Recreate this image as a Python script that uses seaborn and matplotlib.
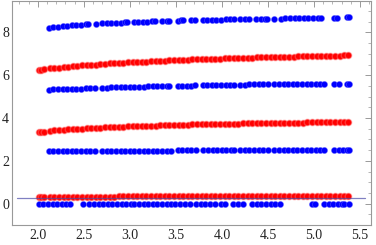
import matplotlib
matplotlib.use("Agg")
import matplotlib.pyplot as plt
from matplotlib.ticker import MultipleLocator
import seaborn as sns
import pandas as pd

# ---- data ----
red_x = [2.01, 2.04, 2.07, 2.13, 2.18, 2.23, 2.28, 2.33, 2.38, 2.43, 2.48, 2.53, 2.58, 2.63,
         2.68, 2.73, 2.78, 2.83, 2.88, 2.93, 2.98, 3.03, 3.08, 3.13, 3.18, 3.23, 3.28, 3.33,
         3.38, 3.43, 3.48, 3.53, 3.58, 3.63, 3.68, 3.73, 3.78, 3.83, 3.88, 3.93, 3.98, 4.03,
         4.08, 4.13, 4.18, 4.23, 4.28, 4.33, 4.38, 4.43, 4.48, 4.53, 4.58, 4.63, 4.68, 4.73,
         4.78, 4.83, 4.88, 4.93, 4.98, 5.03, 5.08, 5.13, 5.18, 5.23, 5.28, 5.33, 5.37]
red_top_y = [6.25, 6.26, 6.27, 6.32, 6.34, 6.36, 6.38, 6.40, 6.42, 6.44, 6.46, 6.47, 6.49, 6.50,
             6.52, 6.53, 6.55, 6.56, 6.57, 6.58, 6.60, 6.61, 6.62, 6.63, 6.64, 6.65, 6.66, 6.67,
             6.68, 6.69, 6.70, 6.71, 6.72, 6.73, 6.74, 6.74, 6.75, 6.76, 6.77, 6.77, 6.78, 6.79,
             6.79, 6.80, 6.81, 6.81, 6.82, 6.82, 6.83, 6.84, 6.84, 6.85, 6.85, 6.86, 6.86, 6.87,
             6.87, 6.88, 6.88, 6.89, 6.89, 6.90, 6.90, 6.91, 6.91, 6.92, 6.92, 6.93, 6.93]
red_mid_y = [3.35, 3.36, 3.37, 3.41, 3.43, 3.44, 3.46, 3.47, 3.49, 3.50, 3.51, 3.52, 3.53, 3.54,
             3.55, 3.56, 3.57, 3.58, 3.59, 3.60, 3.61, 3.61, 3.62, 3.63, 3.64, 3.64, 3.65, 3.66,
             3.66, 3.67, 3.68, 3.68, 3.69, 3.69, 3.70, 3.70, 3.71, 3.71, 3.72, 3.72, 3.73, 3.73,
             3.74, 3.74, 3.74, 3.75, 3.75, 3.76, 3.76, 3.76, 3.77, 3.77, 3.77, 3.78, 3.78, 3.78,
             3.79, 3.79, 3.79, 3.80, 3.80, 3.80, 3.80, 3.81, 3.81, 3.81, 3.82, 3.82, 3.82]
red_low_y = [0.30, 0.30, 0.30,
             0.31, 0.31, 0.31, 0.32, 0.32, 0.32, 0.32, 0.32, 0.33, 0.33, 0.33, 0.33,
             0.33, 0.33, 0.33, 0.34, 0.34, 0.34, 0.34, 0.34, 0.34, 0.34, 0.34, 0.34,
             0.34, 0.34, 0.34, 0.34, 0.35, 0.35, 0.35, 0.35, 0.35, 0.35, 0.35, 0.35,
             0.35, 0.35, 0.35, 0.35, 0.35, 0.35, 0.35, 0.35, 0.35, 0.35, 0.35, 0.35,
             0.35, 0.35, 0.35, 0.35, 0.36, 0.36, 0.36, 0.36, 0.36, 0.36, 0.36, 0.36,
             0.36, 0.36, 0.36, 0.36, 0.36,
             0.36]

blue_top_x = [2.12, 2.17, 2.22, 2.27, 2.32, 2.37, 2.42, 2.47, 2.52, 2.55, 2.63, 2.70, 2.75, 2.80,
              2.85, 2.90, 2.95, 2.97, 3.04, 3.09, 3.14, 3.19, 3.24, 3.27, 3.35, 3.40, 3.43, 3.52,
              3.56, 3.58, 3.66, 3.71, 3.79, 3.84, 3.89, 3.94, 3.99, 4.04, 4.09, 4.13, 4.20, 4.25,
              4.30, 4.37, 4.42, 4.47, 4.49, 4.57, 4.64, 4.69, 4.74, 4.79, 4.84, 4.89, 4.94, 4.99,
              5.04, 5.08, 5.22, 5.25, 5.36, 5.38]
blue_top_y = [8.21, 8.24, 8.26, 8.29, 8.31, 8.33, 8.35, 8.36, 8.38, 8.39, 8.41, 8.42, 8.43, 8.44,
              8.45, 8.46, 8.47, 8.47, 8.49, 8.50, 8.50, 8.51, 8.52, 8.52, 8.53, 8.54, 8.54, 8.55,
              8.56, 8.56, 8.57, 8.57, 8.58, 8.59, 8.59, 8.60, 8.60, 8.61, 8.61, 8.61, 8.62, 8.62,
              8.63, 8.63, 8.64, 8.64, 8.64, 8.65, 8.65, 8.66, 8.66, 8.66, 8.67, 8.67, 8.67, 8.68,
              8.68, 8.68, 8.69, 8.69, 8.70, 8.70]

blue_mid_x = [2.12, 2.17, 2.22, 2.27, 2.32, 2.37, 2.42, 2.47, 2.52, 2.57, 2.62,
              2.70, 2.75, 2.80, 2.85, 2.90, 2.95, 3.00, 3.05, 3.10, 3.15, 3.20, 3.25, 3.30, 3.35, 3.40, 3.43,
              3.52, 3.57, 3.62, 3.67, 3.71,
              3.79, 3.84, 3.89, 3.94, 3.99, 4.04, 4.09, 4.13,
              4.20, 4.25, 4.30, 4.35, 4.40, 4.45, 4.50,
              4.57, 4.62, 4.67, 4.72, 4.77, 4.82, 4.87, 4.92, 4.97, 5.02, 5.07, 5.11,
              5.22, 5.27,
              5.36, 5.38]
blue_mid_y = [5.33, 5.34, 5.35, 5.36, 5.36, 5.37, 5.38, 5.38, 5.39, 5.40, 5.40,
              5.41, 5.42, 5.43, 5.43, 5.44, 5.45, 5.45, 5.46, 5.47, 5.47, 5.48, 5.48, 5.49, 5.49, 5.50, 5.50,
              5.51, 5.51, 5.52, 5.52, 5.53,
              5.53, 5.54, 5.54, 5.54, 5.55, 5.55, 5.55, 5.56,
              5.56, 5.56, 5.57, 5.57, 5.57, 5.57, 5.58,
              5.58, 5.58, 5.58, 5.59, 5.59, 5.59, 5.59, 5.60, 5.60, 5.60, 5.60, 5.60,
              5.61, 5.61,
              5.61, 5.61]

blue_low_x = [2.12, 2.17, 2.22, 2.27, 2.32, 2.37, 2.42, 2.47, 2.52, 2.57, 2.62,
              2.70, 2.75, 2.80, 2.85, 2.90, 2.95, 3.00, 3.05, 3.10, 3.15, 3.20, 3.25, 3.30, 3.35, 3.40, 3.45,
              3.52, 3.57, 3.62, 3.67, 3.72,
              3.80, 3.85, 3.90, 3.95, 4.00, 4.05, 4.10, 4.13,
              4.20, 4.25, 4.30, 4.35, 4.40, 4.45, 4.50,
              4.57, 4.62, 4.67, 4.72, 4.77, 4.82, 4.87, 4.92, 4.97, 5.02, 5.07, 5.11,
              5.22, 5.27, 5.32, 5.36, 5.38]
blue_low_y = [2.44, 2.44, 2.44, 2.45, 2.45, 2.45, 2.45, 2.45, 2.46, 2.46, 2.46,
              2.46, 2.46, 2.46, 2.47, 2.47, 2.47, 2.47, 2.47, 2.47, 2.48, 2.48, 2.48, 2.48, 2.48, 2.48, 2.48,
              2.49, 2.49, 2.49, 2.49, 2.49,
              2.49, 2.49, 2.49, 2.49, 2.50, 2.50, 2.50, 2.50,
              2.50, 2.50, 2.50, 2.50, 2.50, 2.50, 2.50,
              2.50, 2.50, 2.51, 2.51, 2.51, 2.51, 2.51, 2.51, 2.51, 2.51, 2.51, 2.51,
              2.52, 2.52, 2.52, 2.52, 2.52]

blue_zero_x = [2.01, 2.06, 2.11, 2.16, 2.21, 2.26, 2.31, 2.35,
               2.49,
               2.56, 2.61, 2.66, 2.71, 2.76, 2.81, 2.86, 2.91, 2.96, 3.01, 3.04,
               3.10, 3.15, 3.20, 3.25, 3.30, 3.35, 3.40, 3.45, 3.49,
               3.55, 3.60, 3.65,
               3.72, 3.77, 3.82, 3.87, 3.92,
               3.99, 4.03,
               4.12, 4.17, 4.23,
               4.33, 4.38, 4.43, 4.48, 4.53, 4.58, 4.63,
               4.98, 5.01,
               5.11, 5.16, 5.21, 5.26, 5.31, 5.33,
               5.38]
blue_zero_y = [0.0, 0.0, 0.0, 0.0, 0.0, 0.0, 0.0, 0.0,
               0.0,
               0.0, 0.0, 0.0, 0.0, 0.0, 0.0, 0.0, 0.0, 0.0, 0.0, 0.0,
               0.0, 0.0, 0.0, 0.0, 0.0, 0.0, 0.0, 0.0, 0.0,
               0.0, 0.0, 0.0,
               0.0, 0.0, 0.0, 0.0, 0.0,
               0.0, 0.0,
               0.0, 0.0, 0.0,
               0.0, 0.0, 0.0, 0.0, 0.0, 0.0, 0.0,
               0.0, 0.0,
               0.0, 0.0, 0.0, 0.0, 0.0, 0.0,
               0.0]

ref_line_x = [1.77, 5.56]
ref_line_y = [0.28, 0.28]

x_ticks = [2.0, 2.5, 3.0, 3.5, 4.0, 4.5, 5.0, 5.5]
x_tick_labels = ["2.0", "2.5", "3.0", "3.5", "4.0", "4.5", "5.0", "5.5"]
y_ticks = [0, 2, 4, 6, 8]
y_tick_labels = ["0", "2", "4", "6", "8"]

# ---- plotting ----
sns.set_style("white")
plt.rcParams["font.family"] = ["Liberation Serif", "DejaVu Serif"]

fig = plt.figure(figsize=(3.76, 2.45), dpi=100)
ax = fig.add_axes([12 / 376, 20 / 245, 359 / 376, 224 / 245])

BLUE = "#0000ff"
RED = "#ff0000"

blue_sets = [(blue_top_x, blue_top_y), (blue_mid_x, blue_mid_y),
             (blue_low_x, blue_low_y), (blue_zero_x, blue_zero_y)]
red_sets = [red_top_y, red_mid_y, red_low_y]

for bx, by in blue_sets:
    df = pd.DataFrame({"x": bx, "y": by})
    sns.scatterplot(data=df, x="x", y="y", ax=ax, color=BLUE, s=20,
                    linewidth=0.5, edgecolor=(0.45, 0.45, 1.0, 0.5), zorder=3)

for ry in red_sets:
    df = pd.DataFrame({"x": red_x, "y": ry})
    sns.scatterplot(data=df, x="x", y="y", ax=ax, color=RED, s=22,
                    linewidth=1.0, edgecolor=(1.0, 0.5, 0.5, 0.4), zorder=3)

ax.plot(ref_line_x, ref_line_y, color="#4a4aa8", lw=0.9, alpha=0.7, zorder=4)

ax.set_xlim(1.72, 5.62)
ax.set_ylim(-1.0, 9.47)
ax.set_xticks(x_ticks)
ax.set_xticklabels(x_tick_labels)
ax.set_yticks(y_ticks)
ax.set_yticklabels(y_tick_labels)
ax.xaxis.set_minor_locator(MultipleLocator(0.1))
ax.yaxis.set_minor_locator(MultipleLocator(0.5))
ax.set_xlabel("")
ax.set_ylabel("")

for sp in ax.spines.values():
    sp.set_color("#999999")
    sp.set_linewidth(0.8)

ax.tick_params(which="both", direction="in", top=True, right=True,
               color="#999999", labelcolor="#222222", labelsize=10)
ax.tick_params(which="major", length=4, width=0.7)
ax.tick_params(which="minor", length=2, width=0.5)
ax.tick_params(axis="x", pad=3)
ax.tick_params(axis="y", pad=2)

fig.savefig("out.png", dpi=100)
